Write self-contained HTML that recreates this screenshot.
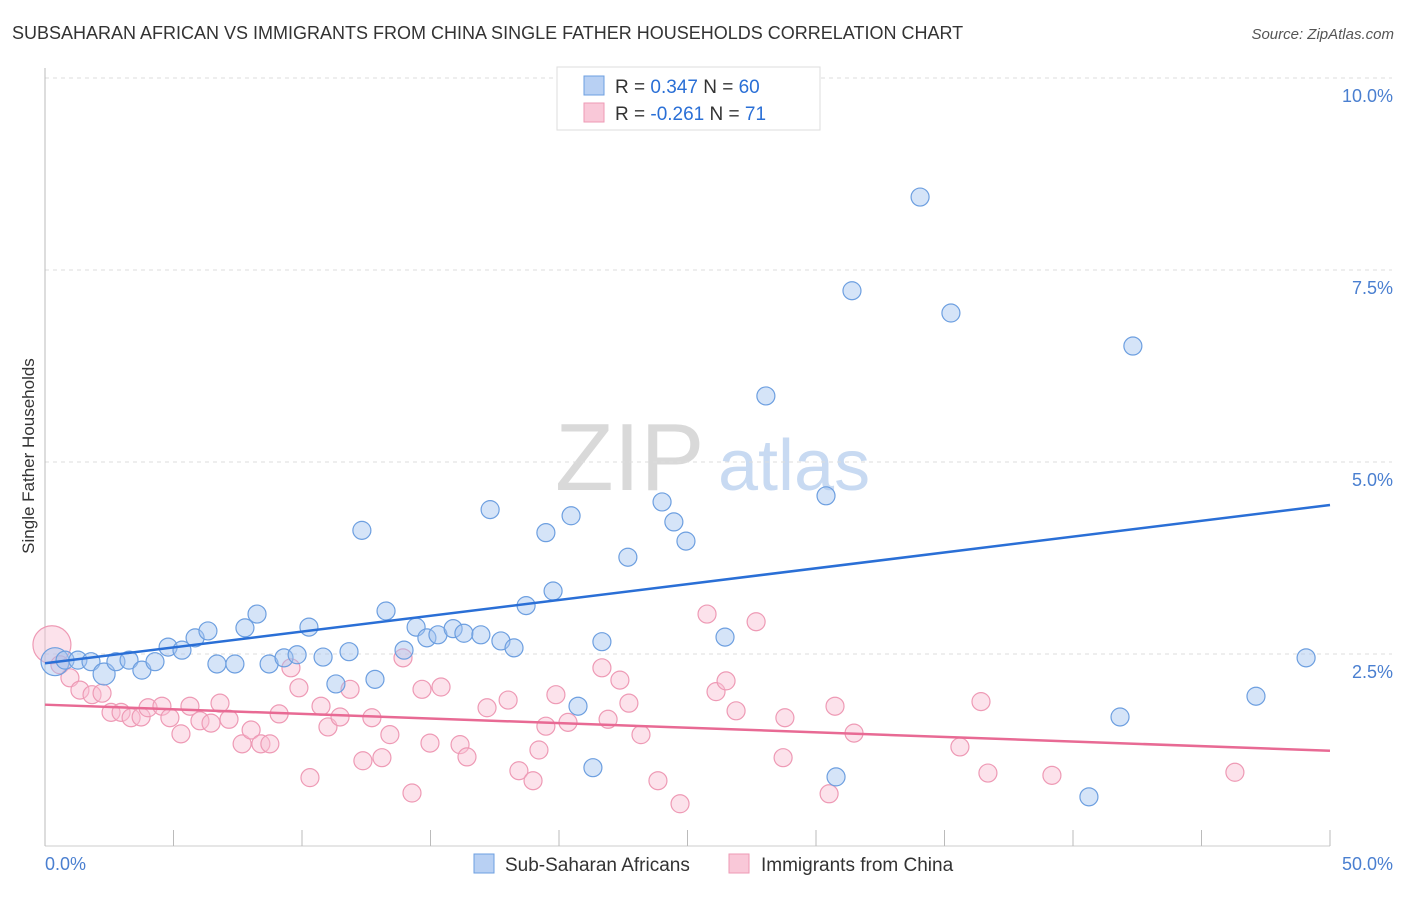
<!DOCTYPE html>
<html><head><meta charset="utf-8"><style>
body{margin:0;background:#fff;font-family:"Liberation Sans",sans-serif;}
svg text{font-family:"Liberation Sans",sans-serif;}
</style></head><body>
<svg id="chart" width="1406" height="892" viewBox="0 0 1406 892">
<text x="12" y="39" font-size="18" fill="#333">SUBSAHARAN AFRICAN VS IMMIGRANTS FROM CHINA SINGLE FATHER HOUSEHOLDS CORRELATION CHART</text>
<text x="1394" y="39" font-size="15" fill="#555" text-anchor="end" font-style="italic">Source: ZipAtlas.com</text>
<g>
<text x="555" y="490" font-size="96" fill="#d9d9d9" font-family="Liberation Serif">ZIP</text>
<text x="718" y="490" font-size="72" fill="#c8daf2">atlas</text>
</g>
<g id="grid"></g>
<g id="axes"></g>
<g id="pink-pts"></g>
<g id="blue-pts"></g>
<g id="trends"></g>
<text transform="translate(34,456) rotate(-90)" font-size="17" fill="#333" text-anchor="middle">Single Father Households</text>
<g>
<rect x="557" y="67" width="263" height="63" fill="#fff" stroke="#ddd"/>
<rect x="584" y="76" width="20" height="19" fill="#b8d0f3" stroke="#6d9fe0"/>
<rect x="584" y="103" width="20" height="19" fill="#f9c8d8" stroke="#ee9ab5"/>
<text x="615" y="93" font-size="19" fill="#333">R = <tspan fill="#2a6fd6"> 0.347</tspan>   N = <tspan fill="#2a6fd6">60</tspan></text>
<text x="615" y="120" font-size="19" fill="#333">R = <tspan fill="#2a6fd6">-0.261</tspan>   N = <tspan fill="#2a6fd6"> 71</tspan></text>
</g>
<g>
<rect x="474" y="854" width="20" height="19" fill="#b8d0f3" stroke="#6d9fe0"/>
<text x="505" y="871" font-size="19" fill="#333">Sub-Saharan Africans</text>
<rect x="729" y="854" width="20" height="19" fill="#f9c8d8" stroke="#ee9ab5"/>
<text x="761" y="871" font-size="19" fill="#333">Immigrants from China</text>
</g>
</svg>
<script>
const blueX=[0.39,0.78,1.28,1.79,2.30,2.76,3.27,3.77,4.28,4.79,5.33,5.84,6.34,6.69,7.39,7.78,8.25,8.72,9.30,9.81,10.27,10.82,11.32,11.83,12.33,12.84,13.27,13.97,14.44,14.86,15.29,15.88,16.30,16.96,17.32,17.74,18.25,18.72,19.49,19.77,20.47,20.74,21.32,21.67,22.68,24.01,24.47,24.94,26.46,28.05,30.39,30.78,31.40,34.05,35.25,40.62,41.83,42.33,47.12,49.07];
const blueY=[2.40,2.42,2.42,2.40,2.24,2.40,2.42,2.29,2.40,2.59,2.55,2.71,2.80,2.37,2.37,2.84,3.02,2.37,2.45,2.49,2.85,2.46,2.11,2.53,4.11,2.17,3.06,2.55,2.85,2.71,2.75,2.83,2.77,2.75,4.38,2.67,2.58,3.13,4.08,3.32,4.30,1.82,1.02,2.66,3.76,4.48,4.22,3.97,2.72,5.86,4.56,0.90,7.23,8.45,6.94,0.64,1.68,6.51,1.95,2.45];
const pinkX=[0.27,0.58,0.97,1.36,1.83,2.22,2.57,2.96,3.35,3.74,4.01,4.55,4.86,5.29,5.64,6.03,6.46,6.81,7.16,7.67,8.02,8.40,8.75,9.11,9.57,9.88,10.31,10.74,11.01,11.48,11.87,12.37,12.72,13.11,13.42,13.93,14.28,14.67,14.98,15.41,16.15,16.42,17.20,18.02,18.44,18.99,19.22,19.49,19.88,20.35,21.67,21.91,22.37,22.72,23.19,23.85,24.71,25.76,26.11,26.50,26.89,27.67,28.72,28.79,30.51,30.74,31.48,35.60,36.42,36.69,39.18,46.30];
const pinkY=[2.62,2.36,2.19,2.03,1.97,1.99,1.74,1.74,1.67,1.68,1.80,1.82,1.67,1.46,1.82,1.63,1.60,1.86,1.65,1.33,1.51,1.33,1.33,1.72,2.32,2.06,0.89,1.82,1.55,1.68,2.04,1.11,1.67,1.15,1.45,2.45,0.69,2.04,1.34,2.07,1.32,1.16,1.80,1.90,0.98,0.85,1.25,1.56,1.97,1.61,2.32,1.65,2.16,1.86,1.45,0.85,0.55,3.02,2.01,2.15,1.76,2.92,1.15,1.67,0.68,1.82,1.47,1.29,1.88,0.95,0.92,0.96];
const blueTrend=[2.38,4.44];
const pinkTrend=[1.84,1.24];
const yTicks=[2.5,5.0,7.5,10.0];
const xTickLabels=["0.0%","50.0%"];
const NS="http://www.w3.org/2000/svg";
const X0=45,X1=1330,Y0=846,Y1=78;
const sx=v=>X0+(v/50)*(X1-X0);
const sy=v=>Y0-(v/10)*(Y0-Y1);
function mk(tag,attrs,parent){const e=document.createElementNS(NS,tag);for(const k in attrs)e.setAttribute(k,attrs[k]);document.getElementById(parent).appendChild(e);return e;}
yTicks.forEach(t=>{
 const l=mk('line',{x1:X0,x2:1392,y1:sy(t),y2:sy(t),stroke:'#ddd','stroke-dasharray':'4,4'},'grid');
 
 
 const tx=mk('text',{x:1393,y:sy(t)+24,'font-size':18,fill:'#4a7fd0','text-anchor':'end'},'grid');
 
 
 tx.textContent=t.toFixed(1)+'%';
});
const ax=mk('line',{x1:X0,x2:X0,y1:68,y2:846,stroke:'#bbb'},'axes');


const bx=mk('line',{x1:X0,x2:X1,y1:846,y2:846,stroke:'#ccc'},'axes');


for(let i=0;i<=10;i++){
 const tk=mk('line',{x1:sx(i*5),x2:sx(i*5),y1:830,y2:846,stroke:'#bbb'},'axes');
 
 
}
[[0,'start',45],[50,'end',1393]].forEach((d,i)=>{
 const t=mk('text',{x:d[2],y:870,'font-size':18,fill:'#4a7fd0','text-anchor':d[1]},'axes');
 
 
 t.textContent=xTickLabels[i];
});
pinkX.forEach((v,i)=>{
 const c=mk('circle',{cx:sx(v),cy:sy(pinkY[i]),r:i===0?19:9,fill:'rgba(248,190,210,0.45)',stroke:'#ee9ab5','stroke-width':1.2},'pink-pts');
 
 
});
blueX.forEach((v,i)=>{
 const c=mk('circle',{cx:sx(v),cy:sy(blueY[i]),r:i===0?14:(i===4?11:9),fill:'rgba(161,196,240,0.45)',stroke:'#6d9fe0','stroke-width':1.2},'blue-pts');
 
 
});
const bl=mk('line',{x1:sx(0),y1:sy(blueTrend[0]),x2:sx(50),y2:sy(blueTrend[1]),stroke:'#2a6fd6','stroke-width':2.5},'trends');


const pl=mk('line',{x1:sx(0),y1:sy(pinkTrend[0]),x2:sx(50),y2:sy(pinkTrend[1]),stroke:'#e86a94','stroke-width':2.5},'trends');


</script>
</body></html>
